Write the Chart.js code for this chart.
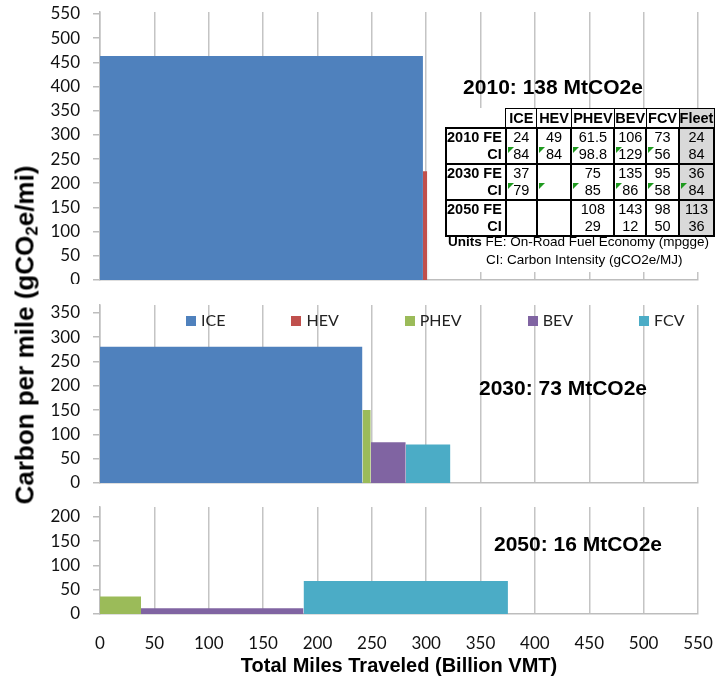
<!DOCTYPE html>
<html>
<head>
<meta charset="utf-8">
<script src="https://cdn.jsdelivr.net/npm/chart.js@4.4.1/dist/chart.umd.min.js"></script>
<style>
  body { margin: 0; background: #fff; }
  #page { position: relative; width: 715px; height: 680px; overflow: hidden; font-family: "Liberation Sans", Arial, sans-serif; }
  canvas { position: absolute; left: 0; }
  .ytitle { position: absolute; left: 26px; top: 335px; transform: translate(-50%, -50%) rotate(-90deg);
            font-weight: bold; font-size: 26px; white-space: nowrap; line-height: 1; }
  .ytitle sub { font-size: 17px; vertical-align: -4px; }
  .ptitle { position: absolute; transform: translate(-50%, -50%); font-weight: bold; font-size: 21px;
            white-space: nowrap; line-height: 1; }
  #legend { position: absolute; left: 186px; top: 310px; display: flex; gap: 66px;
            font-family: Lato, sans-serif; font-size: 16px; color: #222; line-height: 20px; }
  #legend span.box { display: inline-block; width: 10px; height: 10px; margin-right: 5px; vertical-align: 0px; }
  #tablebox { position: absolute; left: 440px; top: 108px; width: 275px; height: 164px; background: #fff; overflow: hidden; }
  #tbl { position: absolute; left: 5px; top: 0; border-collapse: collapse; table-layout: fixed; font-size: 14.5px; }
  #tbl td, #tbl th { padding: 0; text-align: center; height: 17px; line-height: 17px; white-space: nowrap; position: relative; }
  #tbl th { border: 1px solid #000; font-weight: bold; height: 18px; }
  #tbl th.blank { border: none; }
  #tbl th.fleet, #tbl td.fleet { background: #d9d9d9; }
  #tbl td { border-left: 2px solid #000; border-right: 2px solid #000; }
  #tbl tr.fe td { border-top: 2px solid #000; }
  #tbl tr.ci td { border-bottom: 2px solid #000; }
  #tbl td.lab { text-align: right; font-weight: bold; padding-right: 3px; }
  #tbl td.tri::before { content: ""; position: absolute; left: 1px; top: 1px; width: 0; height: 0;
                        border-top: 6px solid #1f9a1f; border-right: 6px solid transparent; }
  .units { position: absolute; font-size: 13.5px; white-space: nowrap; line-height: 1; }
</style>
</head>
<body>
<div id="page">
  <canvas id="c2010" width="715" height="284" style="top:0px"></canvas>
  <canvas id="c2030" width="715" height="193" style="top:295px"></canvas>
  <canvas id="c2050" width="715" height="183" style="top:497px"></canvas>

  <div class="ytitle">Carbon per mile (gCO<sub>2</sub>e/mi)</div>
  <div class="ptitle" style="left:553px; top:86px">2010: 138 MtCO2e</div>
  <div class="ptitle" style="left:563px; top:387px">2030: 73 MtCO2e</div>
  <div class="ptitle" style="left:578px; top:543px">2050: 16 MtCO2e</div>
  <div id="legend"></div>

  <div id="tablebox">
    <table id="tbl"></table>
    <div class="units" style="left:8px; top:127px"><b>Units</b> FE: On-Road Fuel Economy (mpgge)</div>
    <div class="units" style="left:46px; top:145px">CI: Carbon Intensity (gCO2e/MJ)</div>
  </div>
</div>

<script>
const vehicles = ["ICE", "HEV", "PHEV", "BEV", "FCV"];
const colors = ["#4f81bd", "#c0504d", "#9bbb59", "#8064a2", "#4bacc6"];

// billion vehicle miles traveled (bar widths) and gCO2e per mile (bar heights)
const vmt2010 = [297, 4, 0.3, 0.3, 0.3];
const gpm2010 = [463, 225, 211, 162, 103];
const vmt2030 = [241.4, 0, 7.6, 32.2, 41.1];
const gpm2030 = [280, 0, 150, 84, 79];
const vmt2050 = [0, 0, 37.7, 149.5, 188];
const gpm2050 = [0, 0, 36, 12, 68];

const xTicks = [0, 50, 100, 150, 200, 250, 300, 350, 400, 450, 500, 550];
const yTicks2010 = [0, 50, 100, 150, 200, 250, 300, 350, 400, 450, 500, 550];
const yTicks2030 = [0, 50, 100, 150, 200, 250, 300, 350];
const yTicks2050 = [0, 50, 100, 150, 200];

// table in the 2010 panel
const tableCols = ["ICE", "HEV", "PHEV", "BEV", "FCV", "Fleet"];
const fe2010 = ["24", "49", "61.5", "106", "73", "24"];
const ci2010 = ["84", "84", "98.8", "129", "56", "84"];
const fe2030 = ["37", "", "75", "135", "95", "36"];
const ci2030 = ["79", "", "85", "86", "58", "84"];
const fe2050 = ["", "", "108", "143", "98", "113"];
const ci2050 = ["", "", "29", "12", "50", "36"];
const flag2010 = [1, 1, 1, 1, 1, 0];
const flag2030 = [1, 1, 1, 1, 1, 1];
const flag2050 = [0, 0, 0, 0, 0, 0];

const tickFont = { family: "Lato", size: 17 };
const gridGray = "#c4c4c4";

// each vehicle becomes a filled rectangle: width = VMT, height = gCO2e/mi
function rects(vmt, gpm) {
  let x0 = 0;
  const out = [];
  vehicles.forEach((name, i) => {
    const x1 = x0 + vmt[i];
    if (vmt[i] > 0) {
      out.push({
        label: name,
        data: [{x: x0, y: 0}, {x: x0, y: gpm[i]}, {x: x1, y: gpm[i]}, {x: x1, y: 0}],
        backgroundColor: colors[i],
        borderColor: "rgba(0,0,0,0)",
        borderWidth: 0,
        pointRadius: 0,
        fill: "origin",
        tension: 0
      });
    }
    x0 = x1;
  });
  return out;
}

function makePanel(id, vmt, gpm, ymax, yTicks, pad, bottom) {
  new Chart(document.getElementById(id), {
    type: "line",
    data: { datasets: rects(vmt, gpm) },
    options: {
      responsive: false,
      animation: false,
      layout: { padding: pad },
      plugins: { legend: { display: false }, tooltip: { enabled: false } },
      scales: {
        x: {
          type: "linear",
          min: 0,
          max: 550,
          afterBuildTicks: (s) => { s.ticks = xTicks.map(v => ({value: v})); },
          ticks: { display: bottom, font: tickFont, color: "#111", padding: 19 },
          grid: { color: gridGray, lineWidth: 1.5, drawTicks: false },
          border: { display: true, color: "#bdbdbd", width: 1.5 },
          title: {
            display: bottom,
            text: "Total Miles Traveled (Billion VMT)",
            font: { family: "Liberation Sans", size: 20, weight: "bold" },
            color: "#000",
            padding: { top: 0, bottom: 2 }
          },
          afterFit: (s) => {
            s.height = bottom ? 66 : 0;
            s.paddingLeft = 0;
            s.paddingRight = 0;
          }
        },
        y: {
          min: 0,
          max: ymax,
          ticks: { font: tickFont, color: "#111", padding: 13 },
          afterBuildTicks: (s) => { s.ticks = yTicks.map(v => ({value: v})); },
          grid: { drawOnChartArea: false, drawTicks: true, tickLength: 7, color: "#bdbdbd", lineWidth: 1.5 },
          border: { display: true, color: "#bdbdbd", width: 1.5 },
          afterFit: (s) => {
            s.width = 100;
            s.paddingTop = 0;
            s.paddingBottom = 0;
          }
        }
      }
    }
  });
}

makePanel("c2010", vmt2010, gpm2010, 554, yTicks2010, { top: 12, right: 17, bottom: 4, left: 0 }, false);
makePanel("c2030", vmt2030, gpm2030, 366, yTicks2030, { top: 10, right: 17, bottom: 5, left: 0 }, false);
makePanel("c2050", vmt2050, gpm2050, 220, yTicks2050, { top: 10, right: 17, bottom: 0, left: 0 }, true);

// legend
const legend = document.getElementById("legend");
vehicles.forEach((name, i) => {
  const item = document.createElement("div");
  item.innerHTML = `<span class="box" style="background:${colors[i]}"></span>${name}`;
  legend.appendChild(item);
});

// table
const colWidths = [59, 33, 36, 44, 32, 34, 35];
const tbl = document.getElementById("tbl");
let html = "<colgroup>" + colWidths.map(w => `<col style="width:${w}px">`).join("") + "</colgroup>";
html += "<tr><th class='blank'></th>" + tableCols.map(c => `<th class="${c === "Fleet" ? "fleet" : ""}">${c}</th>`).join("") + "</tr>";
const blocks = [
  ["2010", fe2010, ci2010, flag2010],
  ["2030", fe2030, ci2030, flag2030],
  ["2050", fe2050, ci2050, flag2050]
];
blocks.forEach(([yr, fe, ci, flag]) => {
  html += `<tr class="fe"><td class="lab">${yr} FE</td>` +
    fe.map((v, i) => `<td class="${tableCols[i] === "Fleet" ? "fleet" : ""}">${v}</td>`).join("") + "</tr>";
  html += `<tr class="ci"><td class="lab">CI</td>` +
    ci.map((v, i) => `<td class="${tableCols[i] === "Fleet" ? "fleet" : ""} ${flag[i] ? "tri" : ""}">${v}</td>`).join("") + "</tr>";
});
tbl.innerHTML = html;
</script>
</body>
</html>
